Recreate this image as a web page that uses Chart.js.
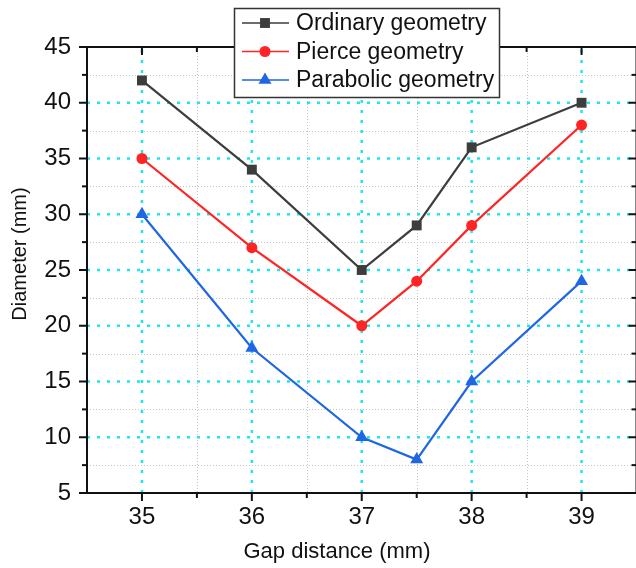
<!DOCTYPE html>
<html>
<head>
<meta charset="utf-8">
<script src="https://cdn.jsdelivr.net/npm/chart.js@4/dist/chart.umd.min.js"></script>
<style>
    html, body { margin: 0; padding: 0; background: #fff; overflow: hidden; }
    .chart-container { position: relative; width: 644px; height: 568px; }
</style>
</head>
<body>
<div class="chart-container">
    <canvas id="diameterChart"></canvas>
</div>
<script>
const gapDistance = [35, 36, 37, 37.5, 38, 39];
const ordinaryGeometry = [42, 34, 25, 29, 36, 40];
const pierceGeometry = [35, 27, 20, 24, 29, 38];
const parabolicGeometry = [30, 18, 10, 8, 15, 24];

const xTicks = [35, 36, 37, 38, 39];
const xMinorTicks = [35.5, 36.5, 37.5, 38.5];
const yTicks = [5, 10, 15, 20, 25, 30, 35, 40, 45];
const yMinorTicks = [7.5, 12.5, 17.5, 22.5, 27.5, 32.5, 37.5, 42.5];

const FONT = "Arial, 'Liberation Sans', sans-serif";

const toPoints = (values) => values.map((v, i) => ({ x: gapDistance[i], y: v }));

// grid, frame, ticks, legend and axis titles in the Origin look
const originFramePlugin = {
    id: "originFrame",
    beforeDatasetsDraw(chart) {
        const { ctx, chartArea: a, scales } = chart;
        const x = scales.x;
        const y = scales.y;
        ctx.save();

        // minor grid
        ctx.strokeStyle = "#c4c4c4";
        ctx.lineWidth = 1;
        ctx.setLineDash([1, 2]);
        xMinorTicks.forEach((v) => {
            const px = Math.round(x.getPixelForValue(v)) + 0.5;
            ctx.beginPath();
            ctx.moveTo(px, a.top);
            ctx.lineTo(px, a.bottom);
            ctx.stroke();
        });
        yMinorTicks.forEach((v) => {
            const py = Math.round(y.getPixelForValue(v)) + 0.5;
            ctx.beginPath();
            ctx.moveTo(a.left, py);
            ctx.lineTo(a.right, py);
            ctx.stroke();
        });

        // major grid
        ctx.strokeStyle = "#1fe6ee";
        ctx.lineWidth = 2.5;
        ctx.setLineDash([3, 7]);
        xTicks.forEach((v) => {
            const px = x.getPixelForValue(v);
            ctx.beginPath();
            ctx.moveTo(px, a.bottom);
            ctx.lineTo(px, a.top);
            ctx.stroke();
        });
        yTicks.slice(1, -1).forEach((v) => {
            const py = y.getPixelForValue(v);
            ctx.beginPath();
            ctx.moveTo(a.left, py);
            ctx.lineTo(a.right, py);
            ctx.stroke();
        });
        ctx.restore();
    },
    afterDatasetsDraw(chart) {
        const { ctx, chartArea: a, scales } = chart;
        const x = scales.x;
        const y = scales.y;
        const major = 8;
        const minor = 5;
        ctx.save();
        ctx.strokeStyle = "#111";
        ctx.lineWidth = 2;
        ctx.setLineDash([]);
        ctx.strokeRect(a.left, a.top, a.right - a.left, a.bottom - a.top);

        const tick = (x1, y1, x2, y2) => {
            ctx.beginPath();
            ctx.moveTo(x1, y1);
            ctx.lineTo(x2, y2);
            ctx.stroke();
        };
        xTicks.forEach((v) => {
            const px = x.getPixelForValue(v);
            tick(px, a.bottom, px, a.bottom + major);
            tick(px, a.top, px, a.top + major);
        });
        xMinorTicks.forEach((v) => {
            const px = x.getPixelForValue(v);
            tick(px, a.bottom, px, a.bottom + minor);
            tick(px, a.top, px, a.top + minor);
        });
        yTicks.forEach((v) => {
            const py = y.getPixelForValue(v);
            tick(a.left, py, a.left - major, py);
            tick(a.right, py, a.right - major, py);
        });
        yMinorTicks.forEach((v) => {
            const py = y.getPixelForValue(v);
            tick(a.left, py, a.left - minor, py);
            tick(a.right, py, a.right - minor, py);
        });
        ctx.restore();
    },
    afterDraw(chart) {
        const { ctx } = chart;
        ctx.save();

        // axis titles
        ctx.fillStyle = "#111";
        ctx.textAlign = "center";
        ctx.textBaseline = "alphabetic";
        ctx.font = `22px ${FONT}`;
        ctx.fillText("Gap distance (mm)", 337, 558);
        ctx.translate(26, 254);
        ctx.rotate(-Math.PI / 2);
        ctx.font = `20px ${FONT}`;
        ctx.fillText("Diameter (mm)", 0, 0);
        ctx.setTransform(1, 0, 0, 1, 0, 0);

        // legend
        const box = { left: 234, top: 8, width: 265, height: 89 };
        ctx.fillStyle = "#fff";
        ctx.fillRect(box.left, box.top, box.width, box.height);
        ctx.strokeStyle = "#333";
        ctx.lineWidth = 1.5;
        ctx.strokeRect(box.left + 0.5, box.top + 0.5, box.width, box.height);

        chart.data.datasets.forEach((ds, i) => {
            const rowY = 23 + i * 28.5;
            ctx.strokeStyle = ds.borderColor;
            ctx.lineWidth = 1.5;
            ctx.beginPath();
            ctx.moveTo(242, rowY);
            ctx.lineTo(289, rowY);
            ctx.stroke();
            ctx.fillStyle = ds.pointBackgroundColor;
            ctx.strokeStyle = ds.pointBackgroundColor;
            Chart.helpers.drawPoint(ctx, {
                pointStyle: ds.pointStyle,
                radius: ds.pointRadius,
                rotation: 0,
                borderWidth: 0,
            }, 265, rowY);
            ctx.fillStyle = "#111";
            ctx.textAlign = "left";
            ctx.textBaseline = "middle";
            ctx.font = `23px ${FONT}`;
            ctx.fillText(ds.label, 296, rowY + 1);
        });
        ctx.restore();
    },
};

const seriesColors = ["#3d3d3d", "#ff2424", "#1f66e5"];

function makeDataset(label, values, color, pointStyle, pointRadius) {
    return {
        label,
        data: toPoints(values),
        borderColor: color,
        backgroundColor: color,
        pointBackgroundColor: color,
        pointBorderColor: color,
        borderWidth: 2.2,
        pointStyle,
        pointRadius,
        pointBorderWidth: 0,
        tension: 0,
        clip: false,
    };
}

const ctx = document.getElementById("diameterChart").getContext("2d");

new Chart(ctx, {
    type: "line",
    data: {
        datasets: [
            makeDataset("Ordinary geometry", ordinaryGeometry, seriesColors[0], "rect", 7),
            makeDataset("Pierce geometry", pierceGeometry, seriesColors[1], "circle", 5.5),
            makeDataset("Parabolic geometry", parabolicGeometry, seriesColors[2], "triangle", 7.5),
        ],
    },
    options: {
        animation: false,
        responsive: true,
        maintainAspectRatio: false,
        layout: { padding: { top: 47, right: 6, left: 0, bottom: 0 } },
        plugins: {
            legend: { display: false },
            tooltip: { enabled: false },
        },
        scales: {
            x: {
                type: "linear",
                min: 34.5,
                max: 39.5,
                afterBuildTicks: (s) => { s.ticks = xTicks.map((v) => ({ value: v })); },
                afterFit: (s) => { s.height = 75; },
                grid: { display: false, drawTicks: false },
                border: { display: false },
                ticks: { color: "#111", font: { family: FONT, size: 24 }, padding: 10, autoSkip: false, maxRotation: 0 },
            },
            y: {
                min: 5,
                max: 45,
                afterBuildTicks: (s) => { s.ticks = yTicks.map((v) => ({ value: v })); },
                afterFit: (s) => { s.width = 87; },
                grid: { display: false, drawTicks: false },
                border: { display: false },
                ticks: { color: "#111", font: { family: FONT, size: 24 }, padding: 16, autoSkip: false },
            },
        },
    },
    plugins: [originFramePlugin],
});
</script>
</body>
</html>
